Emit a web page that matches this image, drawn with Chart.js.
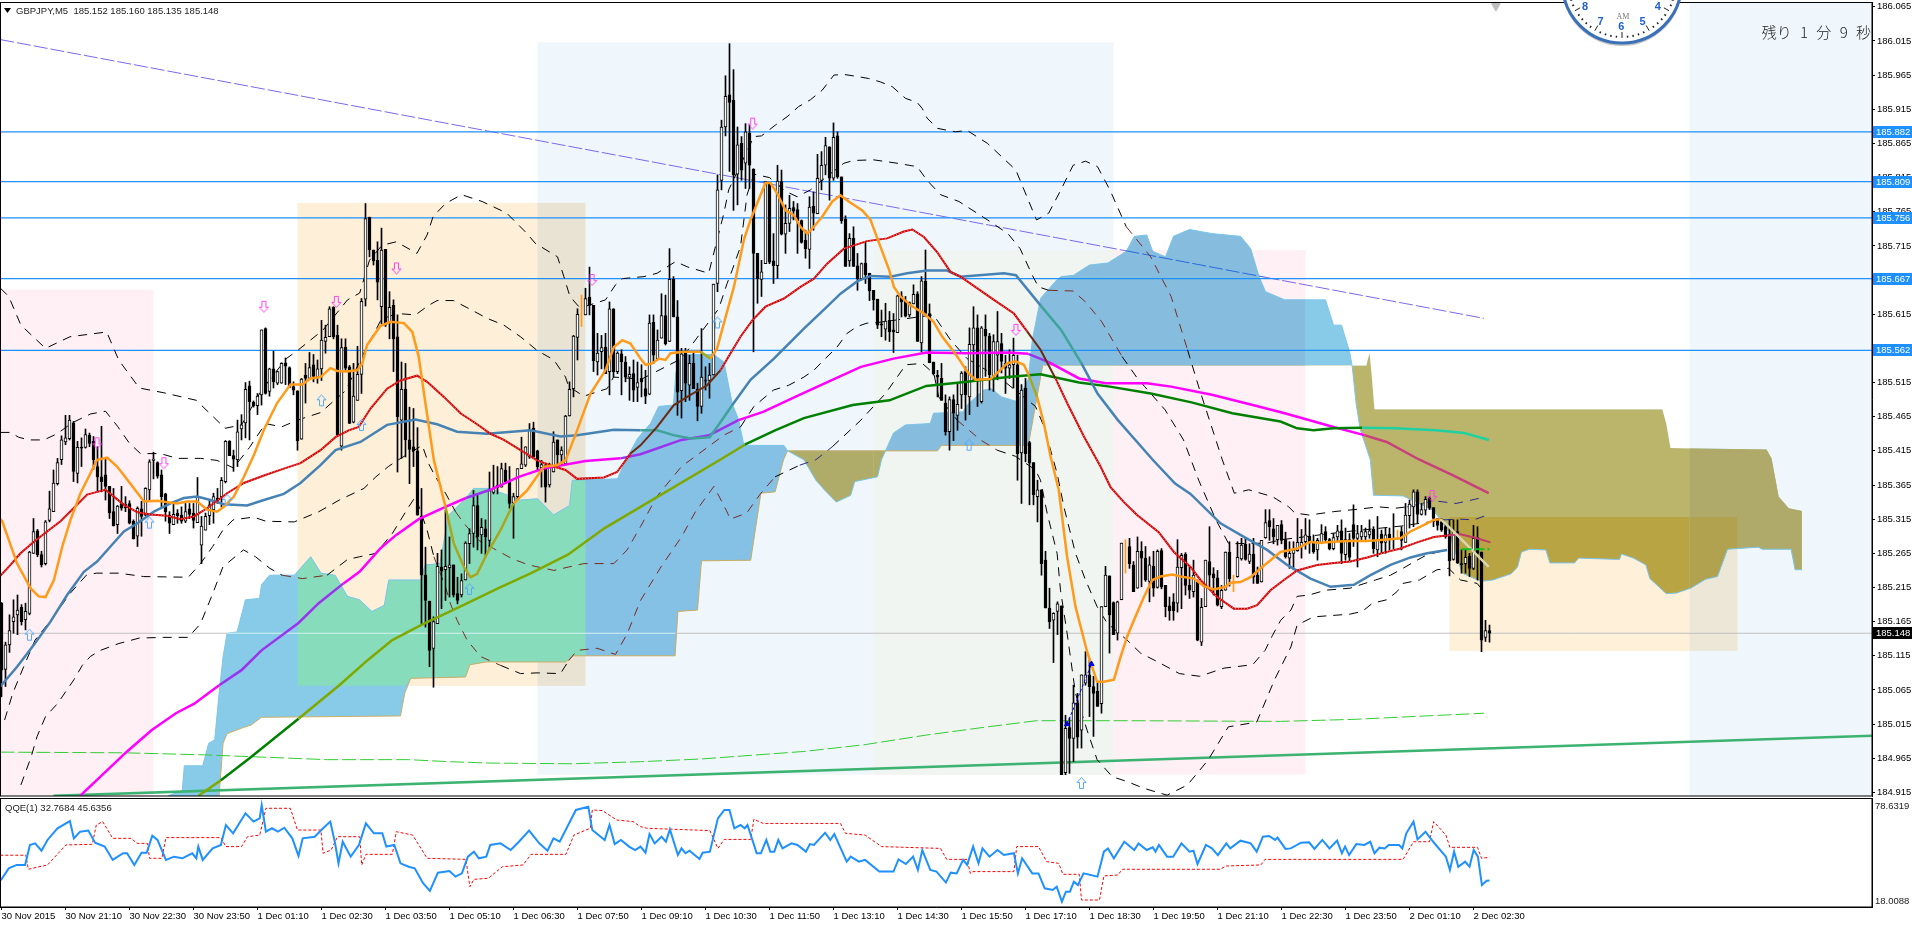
<!DOCTYPE html>
<html><head><meta charset="utf-8">
<style>html,body{margin:0;padding:0;background:#fff;overflow:hidden}canvas{position:absolute;left:0;display:block}</style>
<script src="https://cdn.jsdelivr.net/npm/chart.js@4"></script>
</head><body>
<canvas id="main" width="1912" height="798" style="top:0"></canvas>
<canvas id="sub" width="1912" height="127" style="top:798px"></canvas>
<script>
const priceTicks=[186.065,186.015,185.965,185.915,185.865,185.815,185.765,185.715,185.665,185.615,185.565,185.515,185.465,185.415,185.365,185.315,185.265,185.215,185.165,185.115,185.065,185.015,184.965,184.915];
const timeLabels=["30 Nov 2015","30 Nov 21:10","30 Nov 22:30","30 Nov 23:50","1 Dec 01:10","1 Dec 02:30","1 Dec 03:50","1 Dec 05:10","1 Dec 06:30","1 Dec 07:50","1 Dec 09:10","1 Dec 10:30","1 Dec 11:50","1 Dec 13:10","1 Dec 14:30","1 Dec 15:50","1 Dec 17:10","1 Dec 18:30","1 Dec 19:50","1 Dec 21:10","1 Dec 22:30","1 Dec 23:50","2 Dec 01:10","2 Dec 02:30"];
const levelPrices=[185.882,185.809,185.756,185.667,185.562];
const currentPrice=185.148;
const opens=[185.192,185.095,185.131,185.165,185.175,185.186,185.168,185.177,185.265,185.298,
185.263,185.250,185.313,185.326,185.367,185.402,185.428,185.433,185.456,185.382,
185.420,185.420,185.438,185.429,185.392,185.377,185.380,185.363,185.326,185.307,
185.338,185.332,185.338,185.312,185.290,185.330,185.321,185.358,185.401,185.398,
185.380,185.352,185.321,185.307,185.324,185.321,185.312,185.330,185.324,185.310,
185.277,185.299,185.320,185.329,185.346,185.348,185.370,185.429,185.408,185.402,
185.447,185.456,185.510,185.486,185.481,185.497,185.594,185.502,185.535,185.514,
185.514,185.544,185.537,185.509,185.503,185.432,185.526,185.521,185.541,185.523,
185.535,185.575,185.582,185.625,185.584,185.422,185.567,185.538,185.457,185.489,
185.527,185.637,185.757,185.709,185.694,185.626,185.710,185.602,185.628,185.582,
185.460,185.505,185.431,185.421,185.415,185.319,185.233,185.195,185.126,185.162,
185.245,185.241,185.244,185.248,185.206,185.204,185.226,185.279,185.294,185.335,
185.292,185.301,185.284,185.354,185.361,185.362,185.387,185.370,185.339,185.348,
185.389,185.394,185.406,185.448,185.415,185.390,185.394,185.365,185.384,185.431,
185.409,185.396,185.466,185.506,185.581,185.616,185.614,185.640,185.628,185.545,
185.560,185.567,185.531,185.623,185.531,185.557,185.545,185.523,185.528,185.508,
185.521,185.506,185.498,185.603,185.550,185.580,185.613,185.575,185.666,185.611,
185.503,185.560,185.511,185.543,185.505,185.480,185.518,185.518,185.526,185.660,
185.811,185.889,185.936,185.928,185.820,185.865,185.836,185.880,185.827,185.704,
185.666,185.689,185.806,185.693,185.686,185.809,185.732,185.748,185.771,185.768,
185.752,185.723,185.710,185.773,185.762,185.811,185.833,185.860,185.814,185.876,
185.816,185.754,185.693,185.726,185.686,185.667,185.690,185.675,185.650,185.637,
185.601,185.593,185.606,185.592,185.588,185.642,185.635,185.614,185.630,185.645,
185.573,185.663,185.616,185.545,185.526,185.521,185.485,185.443,185.490,185.467,
185.497,185.531,185.494,185.570,185.595,185.487,185.593,185.583,185.521,185.555,
185.572,185.543,185.536,185.541,185.541,185.412,185.507,185.427,185.398,185.348,
185.358,185.255,185.185,185.167,185.180,185.188,184.944,185.010,184.994,185.046,
185.006,185.075,185.087,185.070,185.063,185.045,185.187,185.232,185.193,185.148,
185.197,185.262,185.275,185.248,185.214,185.268,185.258,185.224,185.246,185.215,
185.269,185.218,185.188,185.194,185.192,185.244,185.264,185.218,185.209,185.223,
185.135,185.187,185.253,185.235,185.229,185.187,185.211,185.267,185.220,185.231,
185.257,185.278,185.253,185.264,185.233,185.223,185.288,185.313,185.301,185.285,
185.307,185.285,185.258,185.265,185.269,185.276,185.282,185.290,185.282,185.270,
185.280,185.297,185.285,185.272,185.289,185.298,185.263,185.285,185.307,185.287,
185.289,185.289,185.292,185.300,185.270,185.293,185.281,185.293,185.287,185.290,
185.297,185.281,185.320,185.333,185.355,185.322,185.328,185.346,185.332,185.316,
185.311,185.304,185.293,185.256,185.297,185.250,185.250,185.261,185.243,185.288,
185.267,185.142,185.152];
const highs=[185.193,185.135,185.175,185.197,185.204,185.190,185.192,185.268,185.316,185.300,
185.268,185.313,185.356,185.387,185.404,185.437,185.467,185.467,185.458,185.429,
185.434,185.447,185.441,185.436,185.421,185.451,185.404,185.363,185.360,185.335,
185.363,185.348,185.342,185.314,185.333,185.341,185.361,185.402,185.413,185.399,
185.387,185.353,185.326,185.341,185.329,185.333,185.338,185.338,185.338,185.376,
185.319,185.324,185.343,185.353,185.360,185.376,185.430,185.430,185.416,185.460,
185.468,185.515,185.517,185.488,185.499,185.592,185.595,185.536,185.561,185.532,
185.544,185.551,185.538,185.516,185.503,185.521,185.543,185.559,185.556,185.548,
185.606,185.599,185.626,185.626,185.599,185.579,185.579,185.540,185.543,185.568,
185.638,185.777,185.757,185.709,185.721,185.741,185.710,185.648,185.636,185.614,
185.545,185.543,185.479,185.477,185.449,185.360,185.274,185.195,185.172,185.265,
185.270,185.328,185.289,185.248,185.230,185.235,185.282,185.301,185.357,185.350,
185.316,185.314,185.384,185.394,185.392,185.397,185.397,185.392,185.353,185.389,
185.435,185.421,185.455,185.457,185.416,185.401,185.397,185.397,185.443,185.431,
185.421,185.467,185.516,185.584,185.623,185.643,185.653,185.684,185.628,185.587,
185.584,185.587,185.633,185.623,185.560,185.563,185.553,185.538,185.548,185.545,
185.541,185.533,185.614,185.614,185.592,185.645,185.643,185.711,185.670,185.635,
185.565,185.565,185.555,185.560,185.514,185.594,185.538,185.543,185.659,185.819,
185.899,185.964,186.011,185.973,185.889,185.875,185.894,185.892,185.828,185.704,
185.694,185.809,185.807,185.733,185.833,185.826,185.775,185.789,185.780,185.777,
185.753,185.738,185.787,185.794,185.849,185.853,185.874,185.860,185.895,185.882,
185.816,185.759,185.733,185.743,185.704,185.690,185.720,185.675,185.650,185.637,
185.621,185.631,185.619,185.616,185.643,185.648,185.641,185.633,185.658,185.648,
185.670,185.709,185.630,185.545,185.533,185.543,185.497,185.494,185.497,185.513,
185.531,185.538,185.595,185.626,185.614,185.597,185.614,185.587,185.585,185.619,
185.587,185.555,185.563,185.580,185.555,185.512,185.521,185.429,185.398,185.372,
185.358,185.268,185.214,185.178,185.194,185.188,185.028,185.024,185.072,185.060,
185.087,185.121,185.109,185.085,185.075,185.187,185.246,185.232,185.194,185.195,
185.280,185.285,185.287,185.253,185.289,185.282,185.275,185.260,185.268,185.270,
185.272,185.218,185.201,185.206,185.285,185.265,185.266,185.245,185.255,185.226,
185.199,185.255,185.304,185.244,185.240,185.218,185.267,185.282,185.233,185.282,
185.287,185.287,185.279,185.287,185.245,185.284,185.329,185.329,185.316,185.306,
185.313,185.296,185.282,185.282,185.316,185.300,185.316,185.314,185.292,185.287,
185.307,185.304,185.287,185.294,185.306,185.314,185.302,185.294,185.336,185.306,
185.306,185.302,185.314,185.304,185.319,185.299,185.302,185.302,185.323,185.299,
185.304,185.338,185.343,185.358,185.358,185.338,185.348,185.348,185.332,185.316,
185.316,185.307,185.314,185.314,185.314,185.270,185.270,185.265,185.306,185.304,
185.267,185.167,185.160];
const lows=[185.055,185.070,185.120,185.148,185.146,185.160,185.153,185.175,185.265,185.260,
185.245,185.248,185.311,185.326,185.365,185.395,185.424,185.431,185.370,185.368,
185.392,185.419,185.421,185.388,185.355,185.355,185.343,185.316,185.305,185.294,
185.328,185.326,185.308,185.286,185.275,185.290,185.320,185.341,185.374,185.375,
185.333,185.312,185.294,185.307,185.309,185.309,185.310,185.316,185.302,185.310,
185.250,185.299,185.307,185.309,185.338,185.333,185.368,185.408,185.385,185.392,
185.431,185.434,185.431,185.479,185.468,185.482,185.498,185.495,185.507,185.512,
185.514,185.512,185.508,185.497,185.416,185.432,185.485,185.521,185.516,185.514,
185.518,185.558,185.582,185.579,185.438,185.416,185.531,185.455,185.456,185.489,
185.499,185.627,185.699,185.687,185.636,185.601,185.597,185.579,185.531,185.384,
185.404,185.406,185.367,185.392,185.321,185.160,185.157,185.099,185.069,185.162,
185.184,185.196,185.201,185.201,185.191,185.201,185.226,185.250,185.274,185.270,
185.265,185.262,185.270,185.352,185.352,185.362,185.367,185.331,185.287,185.345,
185.389,185.392,185.404,185.404,185.387,185.362,185.340,185.362,185.384,185.392,
185.394,185.396,185.466,185.494,185.548,185.597,185.614,185.614,185.531,185.526,
185.535,185.528,185.497,185.523,185.528,185.497,185.516,185.489,185.487,185.487,
185.494,185.484,185.497,185.543,185.550,185.580,185.570,185.575,185.611,185.467,
185.463,185.487,185.489,185.506,185.459,185.470,185.504,185.492,185.526,185.648,
185.797,185.876,185.824,185.767,185.775,185.811,185.799,185.799,185.560,185.631,
185.641,185.689,185.689,185.660,185.667,185.731,185.704,185.736,185.753,185.704,
185.719,185.697,185.682,185.738,185.762,185.797,185.819,185.782,185.811,185.814,
185.748,185.685,185.685,185.685,185.650,185.667,185.660,185.635,185.621,185.594,
185.582,185.577,185.575,185.559,185.588,185.611,185.611,185.611,185.630,185.575,
185.560,185.614,185.544,185.526,185.494,185.489,185.438,185.416,185.430,185.445,
185.477,185.460,185.468,185.519,185.480,185.485,185.524,185.504,185.502,185.519,
185.529,185.499,185.521,185.507,185.372,185.338,185.399,185.336,185.336,185.311,
185.233,185.185,185.155,185.105,185.146,184.941,184.941,184.943,184.960,184.980,
184.980,185.072,185.026,184.997,185.041,185.031,185.187,185.119,185.146,185.138,
185.197,185.236,185.243,185.209,185.214,185.216,185.224,185.194,185.202,185.214,
185.213,185.172,185.167,185.167,185.179,185.184,185.204,185.199,185.201,185.137,
185.130,185.187,185.216,185.204,185.188,185.184,185.211,185.217,185.209,185.230,
185.255,185.255,185.250,185.221,185.221,185.223,185.287,185.284,185.279,185.277,
185.279,185.258,185.243,185.241,185.268,185.258,185.271,185.265,185.265,185.255,
185.279,185.282,185.270,185.270,185.282,185.250,185.255,185.253,185.275,185.245,
185.282,185.282,185.287,185.265,185.260,185.265,185.265,185.270,185.272,185.285,
185.270,185.281,185.302,185.304,185.309,185.321,185.321,185.329,185.304,185.299,
185.297,185.287,185.232,185.255,185.250,185.236,185.236,185.231,185.241,185.226,
185.121,185.136,185.135];
const closes=[185.094,185.131,185.152,185.172,185.182,185.165,185.180,185.267,185.297,185.263,
185.248,185.311,185.330,185.368,185.398,185.431,185.434,185.460,185.385,185.420,
185.419,185.439,185.426,185.402,185.377,185.370,185.363,185.324,185.305,185.334,
185.331,185.337,185.309,185.286,185.331,185.319,185.360,185.399,185.403,185.378,
185.348,185.326,185.309,185.322,185.320,185.312,185.326,185.322,185.313,185.348,
185.305,185.319,185.336,185.348,185.341,185.372,185.429,185.408,185.403,185.443,
185.453,185.505,185.487,185.481,185.495,185.592,185.499,185.535,185.516,185.531,
185.543,185.539,185.508,185.504,185.430,185.520,185.521,185.537,185.524,185.535,
185.577,185.581,185.623,185.582,185.438,185.566,185.536,185.455,185.495,185.527,
185.634,185.755,185.709,185.693,185.662,185.709,185.599,185.625,185.579,185.465,
185.505,185.431,185.417,185.415,185.321,185.233,185.196,185.123,185.165,185.246,
185.239,185.246,185.248,185.204,185.196,185.225,185.280,185.294,185.335,185.289,
185.303,185.289,185.357,185.360,185.365,185.389,185.370,185.338,185.348,185.389,
185.396,185.421,185.446,185.406,185.392,185.395,185.362,185.392,185.428,185.409,
185.416,185.466,185.505,185.583,185.615,185.616,185.638,185.628,185.547,185.558,
185.566,185.528,185.623,185.531,185.558,185.545,185.523,185.527,185.504,185.515,
185.516,185.495,185.602,185.555,185.577,185.613,185.572,185.666,185.611,185.501,
185.557,185.514,185.543,185.506,185.480,185.523,185.517,185.526,185.659,185.797,
185.889,185.934,185.925,185.819,185.863,185.826,185.882,185.833,185.704,185.667,
185.677,185.809,185.691,185.686,185.810,185.732,185.748,185.770,185.766,185.752,
185.720,185.711,185.772,185.763,185.814,185.833,185.862,185.814,185.874,185.816,
185.752,185.685,185.726,185.685,185.667,185.689,185.673,185.649,185.636,185.599,
185.599,185.605,185.589,185.589,185.642,185.633,185.612,185.632,185.644,185.575,
185.664,185.616,185.544,185.528,185.523,185.489,185.443,185.490,185.470,185.483,
185.529,185.497,185.571,185.595,185.521,185.595,185.583,185.526,185.575,185.575,
185.546,185.536,185.541,185.555,185.411,185.504,185.411,185.397,185.351,185.358,
185.250,185.185,185.165,185.177,185.191,184.941,185.009,184.994,185.046,184.996,
185.087,185.087,185.070,185.060,185.041,185.187,185.233,185.175,185.146,185.194,
185.280,185.262,185.250,185.209,185.268,185.258,185.226,185.248,185.214,185.268,
185.216,185.187,185.181,185.181,185.245,185.262,185.218,185.211,185.233,185.138,
185.186,185.255,185.233,185.229,185.189,185.211,185.267,185.228,185.220,185.259,
185.277,185.256,185.264,185.230,185.221,185.284,185.310,185.304,185.289,185.306,
185.284,185.260,185.265,185.270,185.281,185.281,185.292,185.282,185.267,185.284,
185.294,185.285,185.272,185.288,185.298,185.265,185.285,185.259,185.287,185.294,
185.297,185.297,185.298,185.272,185.285,185.280,185.292,185.287,185.286,185.290,
185.284,185.321,185.337,185.355,185.322,185.329,185.344,185.331,185.316,185.306,
185.299,185.289,185.254,185.298,185.251,185.248,185.259,185.243,185.287,185.265,
185.138,185.152,185.148];
const spanA=[[41.6,184.91],[45.2,184.918],[45.7,184.954],[50.3,184.954],[51.8,184.987],[53.3,184.992],[54.4,185.06],[55.4,185.114],[56.4,185.148],[58.9,185.15],[61,185.197],[64.5,185.199],[65,185.219],[67,185.233],[73.2,185.233],[77.3,185.26],[79.9,185.236],[83.4,185.233],[86.5,185.202],[89.5,185.197],[92.6,185.18],[95.7,185.189],[96.8,185.226],[104.8,185.226],[105.9,185.248],[109.6,185.25],[111.8,185.321],[116,185.345],[118,185.36],[122,185.36],[129.75,185.343],[134,185.345],[138,185.321],[142,185.335],[142.7,185.372],[154,185.374],[156,185.401],[159,185.433],[162.25,185.455],[164.3,185.48],[168,185.482],[168.6,185.53],[170,185.556],[178,185.556],[180.6,185.545],[182.7,185.484],[184.3,185.46],[185.6,185.423],[195.6,185.423],[196.5,185.415],[200.6,185.402],[203.6,185.372],[205.7,185.358],[208.7,185.34],[212.3,185.35],[213.3,185.37],[219,185.377],[220,185.402],[221,185.415],[223,185.441],[226,185.453],[232.2,185.455],[233,185.47],[240.4,185.472],[241.4,185.482],[245.5,185.504],[247.5,185.506],[250,185.494],[254,185.487],[256.7,185.52],[257.7,185.577],[259.75,185.638],[263.8,185.665],[264.9,185.67],[268,185.672],[272,185.687],[276.6,185.69],[281.2,185.707],[283.2,185.729],[286.3,185.731],[287.8,185.707],[291,185.699],[293,185.729],[297,185.739],[302.6,185.733],[309.75,185.729],[312.3,185.711],[314.4,185.67],[316,185.648],[320.8,185.636],[331,185.636],[333,185.599],[335,185.599],[337,185.56],[337.65,185.54],[338.7,185.482],[339.7,185.446],[342.2,185.402],[343,185.35],[350.4,185.349],[358,185.328],[361.6,185.299],[365.2,185.236],[369.8,185.224],[372.85,185.226],[377.4,185.235],[379,185.245],[380,185.267],[382,185.271],[386.1,185.27],[387.1,185.251],[393.25,185.251],[394.3,185.258],[404.5,185.256],[405,185.264],[408,185.258],[411.1,185.248],[412.1,185.228],[416.2,185.206],[418.8,185.207],[422.3,185.214],[426,185.227],[429,185.231],[430.5,185.255],[431.5,185.271],[439.2,185.274],[440.2,185.271],[447.4,185.271],[448.4,185.241],[450.1,185.241]];
const spanB=[[41.6,184.88],[54,184.9],[54.4,184.91],[55.4,184.987],[56.4,185.001],[60,185.009],[62.5,185.014],[65,185.025],[99.75,185.027],[100.8,185.06],[102.3,185.082],[116,185.084],[117.1,185.102],[121.2,185.106],[141,185.106],[143,185.115],[168.4,185.115],[169.1,185.18],[174,185.182],[175,185.254],[187.3,185.255],[189.85,185.353],[193.4,185.355],[195.5,185.402],[196.5,185.415],[234,185.415],[235,185.423],[256.7,185.423],[260.3,185.54],[341.2,185.54],[342,185.559],[342.5,185.53],[343.25,185.476],[415.2,185.476],[416.2,185.455],[417.25,185.419],[441.25,185.417],[442.5,185.404],[444.3,185.348],[446.8,185.331],[450.1,185.327]];
const orangeMA=[[-0.3,185.315],[0.17,185.312],[3.9,185.25],[7.25,185.214],[9.3,185.202],[11,185.201],[13.1,185.226],[15.2,185.275],[17.25,185.314],[19.75,185.353],[21.8,185.377],[23.9,185.402],[26.4,185.405],[28.9,185.392],[31.8,185.37],[35.6,185.341],[38.9,185.342],[43.9,185.338],[46.4,185.341],[48.9,185.341],[51.4,185.329],[53.9,185.326],[55.6,185.333],[58.1,185.348],[60.6,185.377],[63.1,185.409],[65.6,185.446],[68.9,185.485],[72.25,185.512],[75.2,185.512],[77.25,185.521],[79.75,185.523],[82.25,185.536],[83.9,185.532],[86.4,185.531],[88.9,185.533],[90.2,185.543],[91.4,185.57],[94.75,185.598],[97.25,185.604],[100.6,185.602],[102.7,185.589],[104.3,185.553],[106,185.484],[108.1,185.401],[111,185.333],[113.1,185.279],[115.6,185.245],[117.25,185.23],[118.9,185.235],[121.4,185.265],[124.75,185.299],[128,185.338],[131.4,185.357],[135.6,185.392],[138.9,185.394],[141,185.401],[143.9,185.445],[147.25,185.499],[151,185.533],[153.1,185.567],[155.2,185.577],[157.25,185.572],[159.75,185.55],[161,185.541],[162.7,185.543],[164.3,185.55],[166,185.548],[167.25,185.558],[170.6,185.56],[174.75,185.56],[177.25,185.55],[178.9,185.565],[180.6,185.602],[183.1,185.655],[185.6,185.724],[187.25,185.753],[188.9,185.777],[191,185.807],[192.25,185.807],[193.9,185.792],[196,185.767],[198.1,185.76],[199.75,185.743],[201.4,185.733],[203.1,185.743],[205.2,185.758],[207.7,185.78],[209.75,185.789],[211.8,185.78],[215.2,185.767],[217.25,185.753],[219.4,185.719],[221.9,185.68],[223.1,185.655],[224.75,185.641],[227.25,185.628],[230.6,185.616],[233,185.604],[235.2,185.582],[238.1,185.56],[239.75,185.546],[241.4,185.531],[243.5,185.519],[247.25,185.52],[249.3,185.531],[251.4,185.543],[253.5,185.546],[255.6,185.541],[256.8,185.526],[258.9,185.494],[260.6,185.455],[262.25,185.407],[264.3,185.358],[266.4,185.26],[268.5,185.187],[271.4,185.121],[273.9,185.077],[275.6,185.077],[278.1,185.08],[279.75,185.113],[281.4,185.143],[283.1,185.167],[285.6,185.201],[287.7,185.226],[289.75,185.231],[292.7,185.234],[294.75,185.231],[298.1,185.228],[300.6,185.217],[303.1,185.212],[306,185.216],[307.25,185.222],[309.75,185.223],[312.25,185.23],[314.75,185.243],[317.25,185.255],[319.75,185.267],[323.9,185.272],[327.25,185.282],[329,185.28],[333,185.282],[337.25,185.283],[341.4,185.283],[345.6,185.285],[349.75,185.287],[352.25,185.297],[354.75,185.304],[358.1,185.314],[359.75,185.315],[362.7,185.299],[371.8,185.245]];
const redMA=[[-0.3,185.232],[2.25,185.248],[4.75,185.265],[8.1,185.282],[11.4,185.297],[14.75,185.312],[18.5,185.334],[21.4,185.351],[23.9,185.355],[26,185.358],[28.1,185.348],[30.6,185.336],[34,185.325],[37.25,185.322],[41.4,185.32],[44.75,185.315],[48.1,185.319],[51.4,185.331],[56.4,185.353],[60.6,185.368],[65.6,185.379],[70.6,185.389],[74.75,185.397],[79.75,185.416],[83.5,185.435],[86.8,185.445],[89.3,185.45],[92.25,185.477],[96.4,185.506],[99.75,185.518],[103.9,185.525],[106.4,185.516],[110.6,185.494],[114.75,185.47],[118.9,185.454],[122.25,185.44],[125.6,185.431],[129.75,185.416],[133.9,185.401],[138.1,185.392],[141,185.387],[143.9,185.374],[150.6,185.376],[153.9,185.384],[157.25,185.411],[159.75,185.423],[163.9,185.45],[168.1,185.482],[172.25,185.497],[176.4,185.511],[179.75,185.533],[182.25,185.558],[184.75,185.582],[187.7,185.606],[191,185.626],[195.6,185.638],[199.75,185.655],[203.1,185.667],[206.4,185.689],[210.6,185.711],[216.4,185.722],[221.4,185.726],[225.6,185.736],[227.7,185.739],[230.6,185.728],[233.9,185.706],[237.25,185.677],[239.75,185.67],[248.1,185.636],[253.1,185.616],[256.4,185.59],[259.75,185.563],[263.5,185.521],[266.4,185.485],[270.6,185.436],[274.75,185.392],[277.25,185.362],[280.6,185.34],[283.9,185.321],[289.3,185.296],[293.1,185.267],[297.25,185.245],[299.75,185.226],[303.9,185.201],[308.1,185.184],[311.4,185.184],[313.9,185.189],[317.25,185.211],[320.6,185.226],[323.9,185.24],[328.9,185.248],[333.1,185.251],[337.25,185.253],[341.4,185.259],[345.6,185.266],[349.75,185.272],[353.9,185.281],[358.1,185.289],[361.4,185.291],[364.75,185.293],[368.9,185.287],[372.25,185.281]];
const steelMA=[[-0.3,185.07],[3.9,185.099],[8.1,185.131],[12.25,185.165],[16.4,185.204],[20.6,185.238],[23.9,185.253],[27.25,185.275],[30.6,185.297],[34,185.309],[38.1,185.326],[42.25,185.338],[45.6,185.346],[48.9,185.348],[52.25,185.343],[55.6,185.337],[61.4,185.335],[65.6,185.343],[70.6,185.352],[74.75,185.368],[79.75,185.394],[83.5,185.416],[89.75,185.428],[96.4,185.453],[103.5,185.461],[108.9,185.454],[113.9,185.443],[121.4,185.44],[132.25,185.445],[139.75,185.436],[143.9,185.438],[153.1,185.446],[159.75,185.445],[163.9,185.445],[168,185.438],[172.25,185.433],[177,185.435],[178.9,185.45],[182.7,185.482],[187.25,185.519],[193.1,185.55],[200.6,185.594],[206.4,185.626],[209.75,185.645],[213.9,185.663],[217.25,185.671],[222.25,185.67],[226.4,185.675],[231.4,185.679],[236.4,185.679],[239.75,185.67],[250.6,185.675],[253.6,185.672],[259.75,185.628],[264.9,185.592],[270,185.543],[274,185.499],[279.1,185.46],[287.8,185.402],[293.4,185.367],[297.25,185.352],[304.75,185.309],[310.6,185.289],[316.4,185.27],[321.4,185.248],[327.25,185.228],[332.25,185.216],[338.1,185.219],[342.25,185.233],[347.25,185.248],[352.25,185.259],[356.4,185.265],[361.4,185.27]];
const magentaMA=[[19.65,184.91],[31.4,184.975],[37.5,185.006],[43.6,185.031],[48.2,185.045],[54.4,185.072],[60,185.094],[65,185.123],[74.25,185.163],[79.3,185.192],[85.5,185.221],[89.5,185.238],[94.65,185.272],[98.7,185.292],[104.3,185.315],[111,185.333],[116.1,185.346],[122.2,185.358],[129.3,185.377],[135.5,185.389],[146,185.4],[154.75,185.404],[159.75,185.41],[170,185.431],[177,185.438],[184.25,185.46],[190.4,185.472],[199.5,185.497],[207.7,185.519],[214.85,185.538],[223,185.55],[231.2,185.559],[241.4,185.558],[251.6,185.559],[256.7,185.557],[261.8,185.545],[269.4,185.521],[276.1,185.514],[286.3,185.514],[292.4,185.509],[302.6,185.497],[312.8,185.482],[320.8,185.47],[333,185.45],[340.7,185.438],[346.3,185.428],[354.5,185.402],[362.65,185.38],[371.8,185.353]];
const greenMA=[[49.25,184.91],[54.85,184.933],[62,184.965],[74.25,185.023],[84.45,185.072],[91.6,185.109],[97.7,185.138],[104.85,185.16],[114,185.185],[124.25,185.214],[132.4,185.236],[141.6,185.263],[150.8,185.302],[159.75,185.333],[179.65,185.402],[185.8,185.424],[193.4,185.445],[200.6,185.463],[212.8,185.482],[222,185.489],[231.2,185.51],[241.4,185.516],[251.6,185.523],[259.75,185.527],[269.4,185.515],[277.1,185.509],[287.3,185.499],[297.5,185.486],[307.7,185.47],[319.75,185.458],[323.9,185.448],[328,185.445],[333,185.448],[340.2,185.449],[348.4,185.448],[358.6,185.445],[365.7,185.441],[371.85,185.431]];
const dashedGreen=[[-0.3,184.974],[31,184.973],[50.8,184.97],[81.4,184.963],[101.8,184.963],[112,184.96],[122.2,184.958],[142.6,184.957],[159.75,184.96],[175,184.964],[200.6,184.975],[215.9,184.985],[231.2,184.999],[246.5,185.011],[258.7,185.02],[282.2,185.02],[319.75,185.019],[338.15,185.022],[370.6,185.031]];
const bandUpperOuter=[[-0.25,185.653],[1.8,185.641],[4.85,185.599],[11,185.565],[17.1,185.582],[26.3,185.589],[29.3,185.548],[34.45,185.507],[40.6,185.5],[48.7,185.489],[55.9,185.448],[60,185.453],[65.05,185.504],[71.2,185.55],[74.25,185.563],[80.4,185.592],[86.5,185.636],[89.55,185.646],[92,185.694],[95.15,185.716],[98.7,185.721],[103.85,185.704],[106.4,185.731],[107.9,185.758],[111,185.777],[115,185.79],[120.15,185.78],[126.3,185.763],[131.4,185.733],[133.4,185.719],[139,185.699],[140.6,185.67],[142.1,185.641],[144.65,185.624],[151,185.636],[153.5,185.658],[155.2,185.667],[156.8,185.668],[160.6,185.67],[163.9,185.675],[168.5,185.692],[171.6,185.684],[176.8,185.675],[179.3,185.733],[180.6,185.763],[181.8,185.797],[188.1,185.875],[190,185.876],[193.5,185.892],[196.4,185.904],[199.3,185.919],[202.25,185.929],[205.2,185.943],[208.1,185.965],[210.6,185.966],[213.9,185.963],[216.8,185.96],[219.75,185.955],[222.7,185.948],[226,185.931],[228.9,185.925],[230.2,185.916],[231.4,185.902],[234,185.887],[238.5,185.882],[241.4,185.884],[246.5,185.865],[253.6,185.826],[254.65,185.811],[258.75,185.753],[261.8,185.763],[264.85,185.797],[267.9,185.833],[271,185.839],[274,185.831],[277.1,185.797],[281.2,185.743],[287.3,185.699],[292.4,185.641],[296.5,185.563],[299.55,185.504],[305.2,185.402],[308.2,185.353],[311.8,185.358],[317.75,185.348],[321.8,185.333],[323.35,185.324],[326.9,185.321],[333,185.326],[338.15,185.329],[344.3,185.333],[348.4,185.331],[351.4,185.333],[358,185.342],[363.65,185.338],[369.8,185.346]];
const bandUpperInner=[[-0.25,185.442],[2.25,185.442],[4.25,185.435],[6.85,185.431],[10.6,185.431],[13.9,185.44],[17.65,185.456],[22.25,185.469],[26,185.473],[29,185.451],[32,185.426],[34.75,185.411],[39.75,185.411],[43.9,185.404],[49.75,185.404],[53.9,185.401],[58,185.39],[62,185.42],[66,185.455],[70,185.45],[74,185.46],[79.75,185.471],[86,185.503],[91,185.563],[95,185.608],[99,185.616],[103.5,185.614],[106.8,185.628],[108.9,185.635],[113,185.635],[117.25,185.622],[121.4,185.609],[125.6,185.599],[129.75,185.582],[133.9,185.562],[138.1,185.548],[141,185.523],[141.8,185.509],[145.6,185.495],[149.75,185.503],[151.4,185.506],[153,185.523],[160,185.52],[170,185.55],[179.3,185.623],[181.4,185.66],[182.7,185.68],[184.75,185.714],[186.4,185.79],[188.1,185.82],[192,185.815],[196,185.795],[198.9,185.787],[202.25,185.797],[206,185.815],[210.6,185.836],[213,185.84],[218,185.841],[223.9,185.836],[228.9,185.831],[231.4,185.811],[234.75,185.79],[239.35,185.78],[246.5,185.753],[251.6,185.733],[254.65,185.711],[257.7,185.672],[259.25,185.655],[261.8,185.65],[267.9,185.649],[271,185.633],[275.05,185.604],[280.15,185.553],[283.75,185.523],[285.8,185.509],[290.9,185.475],[295.5,185.431],[299.3,185.372],[303.6,185.314],[306.8,185.279],[316.4,185.28],[320,185.285],[335,185.296],[350,185.305],[360.6,185.314],[364.75,185.315],[368.1,185.314],[371.4,185.321]];
const bandLowerInner=[[0.77,185.021],[2.8,185.06],[5.9,185.104],[8.4,185.138],[13,185.172],[17.1,185.206],[21.2,185.233],[23.7,185.236],[29.3,185.236],[35.5,185.231],[46.7,185.23],[49.75,185.25],[52.8,185.275],[55.35,185.299],[57.9,185.314],[63,185.318],[66.1,185.312],[73.2,185.311],[79.35,185.326],[84.45,185.343],[90.6,185.36],[93.6,185.377],[96.7,185.392],[99.25,185.402],[105.2,185.423],[106.8,185.396],[108.5,185.377],[111,185.353],[113.5,185.326],[115.6,185.309],[119.3,185.284],[123,185.272],[127.7,185.257],[131.8,185.248],[138.1,185.24],[141.8,185.245],[145.6,185.25],[153.1,185.25],[156.4,185.27],[159.75,185.304],[163.8,185.348],[170,185.392],[180.6,185.438],[184.75,185.45],[188.1,185.48],[193,185.504],[196.8,185.511],[200.6,185.523],[203.1,185.533],[205.6,185.548],[208.9,185.567],[211.4,185.587],[213.9,185.597],[216.4,185.602],[218,185.602],[233,185.614],[237.3,185.577],[241.4,185.55],[250,185.52],[258.5,185.48],[260.6,185.451],[263.9,185.382],[265.6,185.333],[268.5,185.265],[271,185.226],[273.9,185.187],[276.4,185.163],[281.4,185.138],[284.75,185.119],[289.75,185.104],[294.45,185.089],[299.55,185.085],[305.65,185.097],[312.8,185.102],[315.9,185.123],[317.75,185.145],[319.8,185.167],[322.35,185.182],[323.9,185.202],[326.9,185.204],[331,185.211],[337.15,185.214],[343.5,185.226],[347.25,185.233],[349.75,185.241],[353.9,185.255],[356.4,185.263],[361.4,185.27]];
const bandLowerOuter=[[4.85,184.926],[7.4,184.967],[8.9,184.997],[11,185.026],[14,185.045],[18.1,185.08],[20.2,185.101],[22.2,185.114],[24.75,185.123],[29.35,185.133],[34.45,185.141],[40.6,185.142],[46.7,185.142],[49.75,185.162],[52.8,185.206],[55.35,185.245],[58.4,185.26],[60.5,185.27],[63.5,185.26],[67.1,185.243],[70.15,185.233],[75.25,185.228],[81.4,185.233],[86.5,185.256],[89.55,185.26],[93.6,185.265],[97.7,185.294],[101.8,185.333],[103.5,185.348],[106.4,185.299],[108.1,185.26],[111,185.216],[112.25,185.191],[113.9,185.167],[116.4,185.138],[119.75,185.114],[124.75,185.101],[129.75,185.089],[133.9,185.09],[139.75,185.089],[141.8,185.108],[143.9,185.123],[148.9,185.126],[153.5,185.117],[156.4,185.147],[159.75,185.196],[164.85,185.245],[170,185.289],[173.5,185.326],[178.1,185.363],[181.2,185.328],[182.2,185.315],[186.3,185.324],[189.85,185.353],[193.4,185.377],[199.55,185.394],[203.6,185.402],[207.7,185.421],[214.85,185.46],[221,185.499],[226.1,185.541],[230.2,185.543],[233.1,185.528],[234.3,185.494],[238.9,185.46],[244.75,185.431],[248.9,185.416],[253.5,185.407],[258.5,185.387],[259.75,185.372],[261.4,185.324],[263.9,185.265],[264.75,185.211],[266.4,185.148],[268.5,185.06],[271.4,185.006],[273.9,184.963],[277.7,184.938],[281.4,184.931],[285.6,184.921],[291.4,184.911],[296.5,184.926],[301.6,184.962],[306.7,185.011],[313.8,185.018],[318.26,185.08],[320.3,185.104],[322.35,185.128],[323.9,185.16],[328,185.172],[337.15,185.176],[340.2,185.18],[342.75,185.192],[346.3,185.197],[348.9,185.209],[350.4,185.221],[354.5,185.226],[356.5,185.233],[358.9,185.241],[361.8,185.243],[364.75,185.226],[368.9,185.221],[371,185.206]];
const greenTrend=[[13,184.91],[467.6,184.998]];
const purpleTrend=[[-0.3,186.017],[281,185.708],[316,185.669],[370.6,185.609]];
const zigzagLine=[[266.4,185.015],[272.5,185.103]];
const shortGreen=[[365,185.271],[372,185.271]];
const sellArrows=[[23.9,185.426],[40.6,185.397],[65.6,185.626],[83.7,185.633],[98.75,185.682],[147.65,185.665],[187.8,185.894],[253.6,185.592],[357.65,185.349]];
const buyArrows=[[7,185.146],[37,185.31],[56.4,185.343],[80,185.489],[90,185.453],[117,185.213],[179,185.603],[241.9,185.424],[270,184.929]];
const qqeFast=[[-0.3,33],[0,33.4],[1.8,39.5],[3.8,41.4],[5.9,41.4],[7.1,52.5],[8.4,53.4],[10,49.3],[11.5,55.3],[14,61.8],[17.1,65.8],[18.1,56.2],[19.65,59.9],[21.7,60.5],[23.4,53.8],[25.8,51.6],[27.8,44.2],[30.4,47.9],[31.4,47.9],[33.2,41.4],[35,48.2],[36.3,48.2],[37.7,57.7],[39,55.3],[41.1,44.2],[43.1,46],[45.2,45.1],[47.7,47.9],[48.7,45.1],[49.2,51.6],[50.3,44.2],[52.8,50.6],[54.85,52.5],[56.1,63.6],[57.9,59],[61,70.1],[63,65.5],[64.55,67.3],[65.05,74.7],[66.1,59.9],[67.6,61.8],[69.1,59.9],[70.7,62.1],[72.7,56.2],[74.25,46.4],[75.3,56.2],[78.3,57.1],[80.4,61.8],[82.2,65.5],[83.4,53.4],[84.25,42.3],[85.3,54.3],[87.3,46],[89.35,52.5],[91.1,64.5],[93.1,59],[95.2,59],[96.2,51.6],[98.2,52.5],[99.75,42.3],[101.8,40.4],[103.3,39.5],[105.4,31.2],[107.1,26.9],[109.1,37.1],[112,38],[113.5,34.9],[115.1,36.7],[116.6,46],[118.1,48.8],[119.35,45.1],[121.2,46],[122.2,52.5],[124.75,53.4],[127.3,49.7],[129.35,54.3],[131.9,60.5],[134.45,53.4],[136.5,49.3],[138,56.2],[139.55,54.3],[143.6,72],[146.7,73.8],[147.7,60.8],[150.8,55.3],[152,63.6],[153.3,53],[154.85,55.3],[156.9,51.6],[158.4,49.7],[159.75,51.6],[161,48.2],[162,58.6],[163.3,53.4],[165,57.1],[166.1,54.3],[167.1,61.2],[169.1,46.9],[170,50.6],[171,47.9],[172,49.3],[174.5,44.7],[175.3,48.2],[177.1,48.8],[179.1,67.3],[180.7,72],[182,72],[183.2,61.8],[184.75,63.6],[185.8,61.8],[186.5,63.6],[188.8,47.9],[189.85,47.9],[191.2,55.3],[192.2,48.8],[193.2,48.8],[194.2,55.3],[195.25,50.6],[197.5,53.4],[199,52.5],[201.1,48.8],[202.1,53],[203.1,52.5],[205.9,59.3],[207.2,55.3],[208.2,58.6],[211.3,43.2],[212.3,46],[214.35,43.2],[215.9,44.2],[219.45,37.7],[223,37.7],[224.25,44.5],[226.1,41.9],[227.9,46],[229.1,38.6],[230.2,49.7],[232.2,38.6],[233.75,37.7],[236.1,31.6],[237.3,37.1],[238.8,36.7],[240.4,44.2],[241.4,41.4],[242.9,51.6],[244.25,42.3],[245.25,50.6],[247,46],[249,49.7],[250.6,46.9],[253.1,47.9],[254.1,36.7],[255.15,45.1],[257.7,36.7],[259.25,36.7],[260.8,28.4],[262.8,27.5],[263.8,29.3],[265.1,21],[266.1,26.5],[267.1,26.5],[268.1,32.1],[269.1,30.2],[270.5,36.7],[274,34.9],[275.6,48.8],[276.6,50.6],[278.1,45.1],[280.7,54.3],[283.2,49.7],[284.25,53.4],[286.3,49.7],[287.8,51.2],[288.5,48.8],[289.35,52.5],[291.4,46],[292.9,46],[295,53.4],[297,48.8],[298,49.3],[299,41.9],[301.1,52.5],[302.6,50.6],[304.1,46.9],[306.2,53.4],[307.2,50.6],[309.75,54.9],[312.3,53.4],[313.8,48.8],[315.35,57.1],[316.9,57.5],[318.4,55.3],[319,56.6],[321,50.3],[322.3,50.6],[324.9,53.8],[326.9,54],[328.25,50.3],[330.2,55.3],[332,50.6],[333.9,54.9],[335.1,47.9],[335.9,51.6],[336.9,46.9],[338.7,53],[340.7,52.5],[342.2,54.3],[343.25,47.9],[344.5,51],[345.8,50.6],[346.8,52.5],[349.4,52.5],[350.2,50.6],[351.2,59],[353,65.5],[354,55.6],[356,59.9],[357.55,55.3],[358.6,52.5],[361.1,46],[362.1,38.6],[363.15,48.8],[364.2,40.4],[365.9,43.2],[367,40.4],[368.05,49.7],[369.1,46],[370.1,30.2],[371.3,32.6],[372,32.7684]];
const qqeSlow=[[-0.3,46.8],[6.1,46.8],[6.7,39],[11.5,41.4],[16.1,52.5],[22.7,52.9],[23.7,63.6],[25.3,65.5],[27.8,56.2],[32.4,56.2],[33.9,53.4],[36.5,53.4],[37,45.1],[40.1,45.1],[41.1,56.6],[54.85,56.6],[56.1,51.6],[60,51.6],[61.5,57.1],[64.55,58],[66.1,72.9],[72.2,72.9],[74,60.8],[79.85,60.8],[80.4,47.9],[82.4,49.7],[84,57.1],[89.55,57.1],[90.05,41.4],[91.1,47.3],[97.7,47.3],[98.7,59.9],[102.8,58],[106.4,45.1],[116.1,44.5],[117.1,29.3],[118.1,33.4],[121.7,34],[125.25,40.4],[130.4,41.4],[132.4,47.3],[141.1,47.3],[143.1,58],[147.2,61.8],[147.7,72],[150.25,71.6],[153.8,66.4],[157.9,65.5],[159.75,62.7],[161.3,61.8],[177.1,60.5],[179.1,50.6],[180.7,55.6],[187.3,55.6],[188.1,66.8],[190.4,64.5],[209.75,64.5],[211,59],[215.9,58],[220,51.6],[234.75,50.6],[236.3,44.5],[241.4,44.5],[242.2,36.7],[242.9,37.7],[253.1,37.7],[253.8,51.6],[259.25,51.6],[261.3,43.2],[264.3,42.3],[265.35,36.2],[269.45,36.2],[270,21.9],[274.5,21.9],[275.6,35.3],[279.1,35.8],[280.2,39],[304.65,39],[306.2,40.8],[314.85,41.4],[315.9,44.5],[350.4,44.5],[353,54.3],[357,54.3],[358.05,65.5],[361.1,58],[362.1,51.2],[369,51.2],[370,45.1],[372,45.6356]];

const FONT="'Liberation Sans',sans-serif";
const XMIN=-0.375, XMAX=467.625;
const zones=[
 {a:XMIN,b:38,top:185.651,bot:184.91,c:'#FFF0F5'},
 {a:74,b:146,top:185.778,bot:185.071,c:'#FDEFD8'},
 {a:134,b:278,top:186.013,bot:184.941,c:'#EFF7FD'},
 {a:218,b:326,top:185.709,bot:184.941,c:'#FFF0F5'},
 {a:362,b:434,top:185.318,bot:185.122,c:'#FEF0D9'},
 {a:422,b:XMAX,top:186.072,bot:184.91,c:'#EFF7FD'},
 {a:134,b:146,top:185.778,bot:185.071,c:'#E9E3D3'},
 {a:218,b:278,top:185.709,bot:184.941,c:'#F0F5F2'},
 {a:422,b:434,top:185.318,bot:185.122,c:'#EDE7D8'}
];
const P=a=>a.map(([x,y])=>({x,y}));
function interp(pts,x){
  if(x<pts[0][0]||x>pts[pts.length-1][0]) return null;
  for(let k=1;k<pts.length;k++){ if(x<=pts[k][0]){const [x0,y0]=pts[k-1],[x1,y1]=pts[k];return y0+(y1-y0)*(x-x0)/((x1-x0)||1);} }
  return null;
}
function zoneOf(x,y){const a=interp(spanA,x),b=interp(spanB,x); if(a===null||b===null) return 0; if(y<=a&&y>=b) return 1; if(y<=b&&y>=a) return 2; return 0;}
function lineDs(label,pts,base,blue,olive,width,dash,order){
  return {type:'line',label,data:P(pts),borderColor:base,borderWidth:width,borderDash:dash||[],pointRadius:0,fill:false,tension:0,order,borderCapStyle:'butt',
   segment:{borderColor:c=>{const m=zoneOf((c.p0.parsed.x+c.p1.parsed.x)/2,(c.p0.parsed.y+c.p1.parsed.y)/2);return m===1?blue:m===2?olive:base;}}};
}
function slice(pts,a,b,lo,hi){
  const out=[[a,interp(pts,a)]];
  pts.forEach(p=>{if(p[0]>a&&p[0]<b) out.push(p);});
  out.push([b,interp(pts,b)]);
  return out.map(([x,y])=>[x,Math.min(hi,Math.max(lo,y))]);
}
const datasets=[];
function cloudPair(A,B,above,below,order){
  const idx=datasets.length;
  datasets.push({type:'line',label:'kumoA',data:P(A),borderWidth:0,borderColor:'transparent',pointRadius:0,tension:0,order,fill:{target:idx+1,above,below}});
  datasets.push({type:'line',label:'kumoB',data:P(B),borderWidth:0,borderColor:'transparent',pointRadius:0,tension:0,order:order+0.5,fill:false});
}
cloudPair(spanA,spanB,'#87CBE8','#BBB56B',130);
cloudPair(slice(spanA,74,146,185.071,187),slice(spanB,74,146,185.071,187),'#87DCBC','#87DCBC',128);
cloudPair(slice(spanA,146,218,180,187),slice(spanB,146,218,180,187),'#85C0E5','#AFAB68',126);
cloudPair(slice(spanA,218,326,180,187),slice(spanB,218,326,180,187),'#86BDDF','#AFAB68',124);
cloudPair(slice(spanA,362,422,180,185.318),slice(spanB,362,422,180,185.318),'#B9A444','#B9A444',122);
cloudPair(slice(spanA,422,450.1,180,187),slice(spanB,422,450.1,180,187),'#AFAA6A','#AFAA6A',120);
cloudPair(slice(spanA,422,434,180,185.318),slice(spanB,422,434,180,185.318),'#B1A24F','#B1A24F',118);
datasets.push(lineDs('spanA edge',spanA,'#7CC6EA','#7CC6EA','#7CC6EA',1,[],110));
datasets.push(lineDs('spanB edge',spanB.filter(p=>p[0]<265),'#C9AE6A','#C9AE6A','#C9AE6A',1,[],110));

levelPrices.forEach(v=>datasets.push({type:'line',label:'level '+v,data:[{x:XMIN,y:v},{x:XMAX,y:v}],borderColor:'#1E90FF',borderWidth:1.2,pointRadius:0,fill:false,order:60}));
datasets.push(lineDs('price line',[[XMIN,currentPrice],[56.4,currentPrice],[168.4,currentPrice],[XMAX,currentPrice]],'#C0C0C0','#D6F0F0','#C0C0C0',1,[],60));
datasets.push(lineDs('trend purple',purpleTrend,'#7B68EE','#2868E0','#7B68EE',1,[14,3],60));
datasets.push(lineDs('trend green',greenTrend,'#3CB371','#3CB371','#3CB371',2.5,[],58));
datasets.push(lineDs('level dashed',dashedGreen,'#32CD32','#32CD32','#32CD32',1,[14,4],58));

[bandUpperOuter,bandUpperInner,bandLowerInner,bandLowerOuter].forEach((b,k)=>datasets.push(lineDs('band'+k,b,'#000000','#7A2A20','#2A2A90',1,[9,7],55)));

const idx=opens.map((_,i)=>i);
datasets.push({type:'bar',label:'wick',data:idx.map(i=>({x:i,y:[lows[i],highs[i]]})),barThickness:1,grouped:false,backgroundColor:idx.map(i=>opens[i]===closes[i]?'#FF9A1A':'#000'),order:52});
datasets.push({type:'bar',label:'body',data:idx.map(i=>({x:i,y:[Math.min(opens[i],closes[i]),Math.max(opens[i],closes[i])]})),barThickness:3,grouped:false,
  backgroundColor:idx.map(i=>closes[i]>=opens[i]?'#fff':'#000'),borderColor:idx.map(i=>opens[i]===closes[i]?'#FF9A1A':'#000'),borderWidth:1,borderSkipped:false,order:50});

datasets.push(lineDs('magenta',magentaMA,'#FF00FF','#9933EE','#C8407A',2.5,[],20));
datasets.push(lineDs('green',greenMA,'#008000','#7FA800','#20D0A0',2.5,[],19));
datasets.push(lineDs('steel',steelMA,'#4682B4','#3FA39A','#4682B4',2.5,[],18));
datasets.push(lineDs('red',redMA,'#D40000','#6B2A10','#C23B6A',2,[],17));
datasets.push(lineDs('redDots',redMA,'#FFB4B4','#6B2A10','#C23B6A',0.8,[1,2],16.5));
datasets.push(lineDs('orange',orangeMA,'#FF9A1A','#A8A820','#D8D6B0',2.5,[],15));
datasets.push({type:'line',label:'short green',data:P(shortGreen),borderColor:'#10C020',borderWidth:2,borderDash:[10,3],pointRadius:0,fill:false,order:14});
datasets.push({type:'line',label:'zigzag',data:P(zigzagLine),borderColor:'#0000E0',borderWidth:1,borderDash:[3,2],pointRadius:3,pointStyle:'triangle',pointBackgroundColor:'#0000E0',pointBorderColor:'#0000E0',fill:false,order:13});

function arrowImg(color,down){
  const c=document.createElement('canvas');c.width=11;c.height=14;const g=c.getContext('2d');
  g.strokeStyle=color;g.lineWidth=1;g.translate(.5,.5);
  if(down){g.translate(0,13);g.scale(1,-1);}
  g.beginPath();g.moveTo(5,1);g.lineTo(9.5,6);g.lineTo(7,6);g.lineTo(7,12);g.lineTo(3,12);g.lineTo(3,6);g.lineTo(.5,6);g.closePath();g.stroke();
  return c;
}
datasets.push({type:'line',label:'sell',data:P(sellArrows),showLine:false,pointStyle:arrowImg('#FF40F0',true),pointRadius:6,fill:false,order:5});
datasets.push({type:'line',label:'buy',data:P(buyArrows),showLine:false,pointStyle:arrowImg('#55AAFF',false),pointRadius:6,fill:false,order:5});
datasets.push({type:'line',label:'shift',data:[{x:373.6,y:186.066}],showLine:false,pointStyle:'triangle',rotation:180,pointRadius:5,pointBackgroundColor:'#BEBEBE',pointBorderColor:'#BEBEBE',fill:false,order:5});

const zonePlugin={id:'zones',beforeDatasetsDraw(ch){
  const {ctx,scales:{x,y},chartArea:ca}=ch;ctx.save();ctx.beginPath();ctx.rect(ca.left,ca.top,ca.right-ca.left,ca.bottom-ca.top);ctx.clip();
  zones.forEach(z=>{const l=x.getPixelForValue(z.a),r=x.getPixelForValue(z.b),t=y.getPixelForValue(z.top),b=y.getPixelForValue(z.bot);ctx.fillStyle=z.c;ctx.fillRect(l,t,r-l,b-t);});
  ctx.restore();
}};
function frame(ctx,ca){ctx.save();ctx.strokeStyle='#000';ctx.lineWidth=1;ctx.strokeRect(ca.left+.5,ca.top+.5,ca.right-ca.left-.5,ca.bottom-ca.top-.5);ctx.restore();}
const noPad=s=>{s.paddingTop=0;s.paddingBottom=0;s.paddingLeft=0;s.paddingRight=0;};
const overlayPlugin={id:'overlay',afterDraw(ch){
  const {ctx,scales:{y},chartArea:ca}=ch;
  frame(ctx,{left:0,top:2,right:1872,bottom:796});
  ctx.save();
  ctx.font="9.5px "+FONT;ctx.textBaseline='middle';
  levelPrices.forEach(v=>{const p=Math.round(y.getPixelForValue(v));ctx.fillStyle='#1E90FF';ctx.fillRect(1873,p-6,39,12);ctx.fillStyle='#fff';ctx.textAlign='left';ctx.fillText(v.toFixed(3),1876,p);});
  const p=Math.round(y.getPixelForValue(currentPrice));ctx.fillStyle='#000';ctx.fillRect(1873,p-6,39,12);ctx.fillStyle='#fff';ctx.fillText(currentPrice.toFixed(3),1876,p);
  ctx.fillStyle='#000';ctx.beginPath();ctx.moveTo(4,8);ctx.lineTo(11,8);ctx.lineTo(7.5,13);ctx.closePath();ctx.fill();
  ctx.fillStyle='#222';ctx.textAlign='left';ctx.font="9.5px "+FONT;ctx.fillText('GBPJPY,M5  185.152 185.160 185.135 185.148',16,11);
  const cx=1622,cy=-16.4,r=59.4;
  ctx.beginPath();ctx.arc(cx,cy+2,r+1,0,Math.PI*2);ctx.fillStyle='rgba(90,90,90,.35)';ctx.fill();
  ctx.beginPath();ctx.arc(cx,cy,r,0,Math.PI*2);ctx.fillStyle='#fff';ctx.fill();ctx.strokeStyle='#3A70B8';ctx.lineWidth=3;ctx.stroke();
  for(let m=0;m<60;m++){const a=m*Math.PI/30;const five=m%5===0;ctx.beginPath();const r0=five?r-11:r-7,r1=r-5;ctx.moveTo(cx+r0*Math.sin(a),cy+r0*Math.cos(a));ctx.lineTo(cx+r1*Math.sin(a),cy+r1*Math.cos(a));ctx.lineWidth=five?1:1.5;ctx.strokeStyle='#222';ctx.stroke();}
  ctx.fillStyle='#1E60D0';ctx.font="bold 11px 'Liberation Sans',sans-serif";ctx.textAlign='center';
  [['8',1585,7],['7',1600.6,22],['6',1621.4,27],['5',1642.6,22],['4',1657.7,7]].forEach(([t,a,b])=>ctx.fillText(t,a,b));
  ctx.fillStyle='#777';ctx.font="8px 'Liberation Serif',serif";ctx.fillText('AM',1623,17);
  ctx.fillStyle='#222';ctx.font="300 15px 'Noto Sans CJK JP',sans-serif";ctx.textAlign='right';
  if('wordSpacing' in ctx) ctx.wordSpacing='5px';
  ctx.fillText('残り 1 分 9 秒',1871,32);
  ctx.restore();
}};
new Chart(document.getElementById('main'),{type:'line',data:{datasets},plugins:[zonePlugin,overlayPlugin],options:{
  responsive:false,animation:false,devicePixelRatio:1,events:[],
  layout:{autoPadding:false,padding:{top:2,bottom:2,left:0,right:0}},
  plugins:{legend:{display:false},tooltip:{enabled:false},title:{display:false}},
  scales:{
    x:{type:'linear',display:false,min:XMIN,max:XMAX,offset:false,ticks:{display:false},afterFit:noPad},
    y:{position:'right',min:184.9098,max:186.072,
      afterFit:s=>{s.width=40;noPad(s);},
      afterBuildTicks:s=>{s.ticks=priceTicks.map(v=>({value:v}));},
      grid:{drawOnChartArea:false,drawTicks:true,tickLength:3,color:'#000'},border:{display:true,color:'#000'},
      ticks:{autoSkip:false,padding:2,color:'#000',font:{size:9.5,family:FONT},callback:v=>v.toFixed(3)}}
  }}});

const subLabels=[78.6319,18.0088];
const subPlugin={id:'subOverlay',afterDraw(ch){
  const {ctx,chartArea:ca}=ch;
  frame(ctx,ca);
  ctx.save();ctx.font="9.5px "+FONT;ctx.fillStyle='#222';ctx.textBaseline='middle';ctx.textAlign='left';
  ctx.fillText('QQE(1) 32.7684 45.6356',5,10);
  ctx.fillText(subLabels[0].toFixed(4),1875,8);
  ctx.fillText(subLabels[1].toFixed(4),1875,103);
  ctx.restore();
}};
new Chart(document.getElementById('sub'),{type:'line',data:{datasets:[
  {label:'QQE slow',data:P(qqeSlow),borderColor:'#FF0000',borderWidth:1,borderDash:[3,2],pointRadius:0,fill:false,tension:0,order:2},
  {label:'QQE fast',data:P(qqeFast),borderColor:'#1E90FF',borderWidth:2,pointRadius:0,fill:false,tension:0,order:1}
]},plugins:[subPlugin],options:{
  responsive:false,animation:false,devicePixelRatio:1,events:[],
  layout:{autoPadding:false,padding:0},
  plugins:{legend:{display:false},tooltip:{enabled:false}},
  scales:{
    x:{type:'linear',min:XMIN,max:XMAX,afterFit:s=>{s.height=18;noPad(s);},
      afterBuildTicks:s=>{s.ticks=timeLabels.map((_,k)=>({value:k*16}));},
      grid:{drawOnChartArea:false,drawTicks:true,tickLength:3,color:'#000'},border:{display:true,color:'#000'},
      ticks:{autoSkip:false,maxRotation:0,minRotation:0,align:'start',padding:1,color:'#000',font:{size:9.5,family:FONT},callback:(v)=>timeLabels[Math.round(v/16)]}},
    y:{position:'right',min:18.0088,max:78.6319,afterFit:s=>{s.width=40;noPad(s);},
      afterBuildTicks:s=>{s.ticks=subLabels.map(v=>({value:v}));},
      grid:{display:false},border:{display:true,color:'#000'},ticks:{display:false}}
  }}});
</script>
</body></html>
